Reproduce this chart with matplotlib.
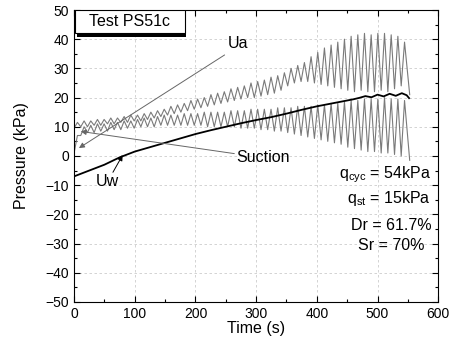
import numpy as np
import matplotlib
matplotlib.use("Agg")
import matplotlib.pyplot as plt
from matplotlib.patches import Rectangle
from matplotlib.ticker import MultipleLocator

plt.rcParams['font.family'] = ['Liberation Sans', 'DejaVu Sans']
plt.rcParams['mathtext.default'] = 'regular'

# loading cycles, one every 11 s
period = 11.0
cycle_t = np.arange(0, 550, period)

ua_trough = [9.5, 10, 10, 10.5, 10.5, 11, 11, 11.5, 11.5, 12,
             12, 12.5, 13, 13.5, 14, 14.5, 15, 15.5, 16, 16.5,
             17, 17.5, 18, 18.5, 19, 19.5, 20, 20, 20.5, 21,
             21.5, 22.5, 24, 25, 25.5, 25.5, 25, 24.5, 24, 23.5,
             23, 22.5, 22, 22.5, 22, 22, 22.5, 22, 23, 24]
ua_peak = [11.5, 12, 12, 12.5, 12.5, 13, 13, 13.5, 14, 14,
           14.5, 15, 15.5, 16, 17, 17.5, 18, 19, 19.5, 20,
           21, 21.5, 22, 23, 23.5, 24, 25, 25.5, 26, 27,
           27.5, 28.5, 30, 31, 32, 34, 35.5, 37, 38, 39,
           40, 41, 41.5, 42, 41.5, 42, 42, 41.5, 41, 39]
ua_end = (553, 21)

suc_trough = [1, 7, 8, 8, 8.5, 8.5, 9, 9, 9.5, 9.5,
              10, 10, 10, 10.5, 10.5, 10.5, 10.5, 10.5, 10.5, 10.5,
              10, 10, 10, 10, 10, 9.5, 9.5, 9.5, 9, 9,
              8.5, 8.5, 8, 7.5, 7, 6.5, 6, 5.5, 5, 4.5,
              4, 3, 2.5, 2, 1.5, 1.5, 1, 1, 0.5, 0]
suc_peak = [7, 10, 10.5, 11, 11, 11.5, 11.5, 12, 12, 12.5,
            13, 13, 13.5, 14, 14, 14, 14.5, 14.5, 14.5, 15,
            15, 15, 15, 15.5, 15.5, 15.5, 16, 16, 16, 16,
            16.5, 16.5, 16.5, 17, 17, 17, 17.5, 17.5, 18, 18,
            18.5, 19, 19, 19.5, 19.5, 19.5, 20, 19.5, 19.5, 19]
suc_end = (553, -1.5)

uw_t = [0, 25, 50, 75, 100, 125, 150, 175, 200, 225, 250, 275, 300, 325,
        350, 375, 400, 420, 440, 460, 470, 480, 490, 500, 510, 520, 530,
        540, 548, 552]
uw_p = [-7, -5, -3, -0.5, 1.5, 3, 4.5, 6, 7.5, 8.8, 10, 11.2, 12.3, 13.3,
        14.5, 15.8, 17, 17.8, 18.6, 19.4, 19.9, 20.5, 20.1, 21, 20.4, 21.3,
        20.6, 21.5, 20.8, 19.8]


def zigzag(trough, peak, end):
    t = np.column_stack([cycle_t, cycle_t + period / 2]).ravel()
    y = np.column_stack([trough, peak]).ravel()
    return np.append(t, end[0]), np.append(y, end[1])


fig = plt.figure(figsize=(4.49, 3.45), dpi=100)
ax = fig.add_axes([0.165, 0.125, 0.811, 0.846])

t, y = zigzag(ua_trough, ua_peak, ua_end)
ax.plot(t, y, color='#7a7a7a', lw=0.8)
t, y = zigzag(suc_trough, suc_peak, suc_end)
ax.plot(t, y, color='#7a7a7a', lw=0.8)
ax.plot(uw_t, uw_p, color='black', lw=1.3)

ax.set_xlim(0, 600)
ax.set_ylim(-50, 50)
ax.xaxis.set_major_locator(MultipleLocator(100))
ax.xaxis.set_minor_locator(MultipleLocator(50))
ax.yaxis.set_major_locator(MultipleLocator(10))
ax.yaxis.set_minor_locator(MultipleLocator(5))
ax.tick_params(which='both', direction='in', top=True, right=True,
               labelsize=10, width=0.8)
ax.tick_params(which='major', length=4)
ax.tick_params(which='minor', length=2.5)
ax.grid(True, which='major', ls=(0, (3, 3)), color='#cccccc', lw=0.6)
ax.set_axisbelow(True)
ax.set_xlabel('Time (s)', fontsize=11.5, labelpad=0)
ax.set_ylabel('Pressure (kPa)', fontsize=11.5, labelpad=12)

# title box with shadow
ax.add_patch(Rectangle((5, 40.8), 180, 8, facecolor='black', zorder=5))
ax.add_patch(Rectangle((2, 42.1), 180, 7.9, facecolor='white',
                       edgecolor='black', lw=0.8, zorder=6))
ax.text(92, 46, 'Test PS51c', fontsize=11.5, ha='center', va='center', zorder=7)

arrow = dict(arrowstyle='-|>', color='#666666', lw=0.7,
             mutation_scale=8, shrinkA=0, shrinkB=0)
ax.annotate('', xy=(8, 2.7), xytext=(248, 34.6), arrowprops=arrow)
ax.text(254, 38.4, 'Ua', fontsize=11.5, va='center')
ax.annotate('', xy=(11, 8.4), xytext=(264, 0.8), arrowprops=arrow)
ax.text(267, -0.7, 'Suction', fontsize=11.5, va='center')
ax.annotate('', xy=(80, 0.3), xytext=(64, -5.6),
            arrowprops=dict(arrow, color='black'))
ax.text(54, -8.6, 'Uw', fontsize=11.5, ha='center', va='center')

ax.text(588, -7.5, 'q$_{cyc}$ = 54kPa', fontsize=11.5, ha='right', va='baseline')
ax.text(588, -16.1, 'q$_{st}$ = 15kPa', fontsize=11.5, ha='right', va='baseline')
ax.text(589, -25.3, 'Dr = 61.7%', fontsize=11.5, ha='right', va='baseline')
ax.text(578, -32.2, 'Sr = 70%', fontsize=11.5, ha='right', va='baseline')

fig.savefig('out.png', dpi=100)
